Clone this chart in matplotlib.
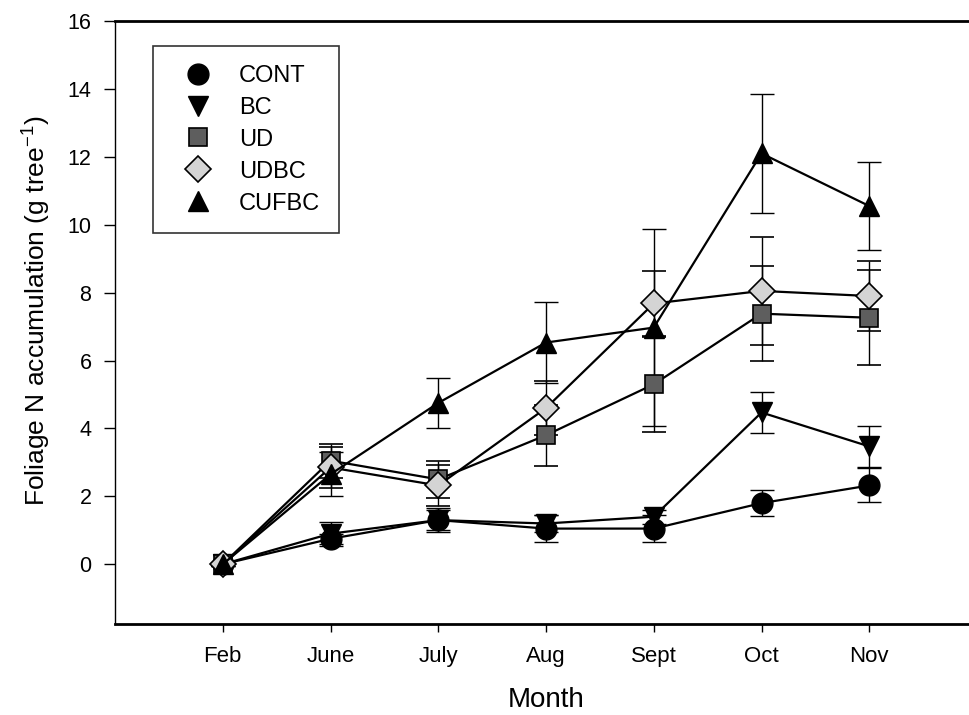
import matplotlib
matplotlib.use("Agg")
import matplotlib.pyplot as plt
from matplotlib.lines import Line2D

plt.rcParams['font.family'] = ['Liberation Sans', 'DejaVu Sans']
plt.rcParams['mathtext.fontset'] = 'custom'
plt.rcParams['mathtext.rm'] = 'Liberation Sans'
plt.rcParams['mathtext.it'] = 'Liberation Sans:italic'
plt.rcParams['mathtext.bf'] = 'Liberation Sans:bold'

months = ["Feb", "June", "July", "Aug", "Sept", "Oct", "Nov"]

cont = [0, 0.75, 1.3, 1.05, 1.05, 1.8, 2.32]
cont_err = [0.05, 0.15, 0.3, 0.4, 0.4, 0.38, 0.5]
bc = [0, 0.9, 1.3, 1.2, 1.4, 4.47, 3.47]
bc_err = [0.05, 0.35, 0.35, 0.25, 0.2, 0.6, 0.6]
ud = [0, 3.05, 2.5, 3.8, 5.3, 7.38, 7.26]
ud_err = [0.05, 0.5, 0.55, 0.9, 1.4, 1.4, 1.4]
udbc = [0, 2.85, 2.32, 4.6, 7.68, 8.05, 7.9]
udbc_err = [0.05, 0.6, 0.6, 0.8, 0.95, 1.6, 1.02]
cufbc = [0, 2.65, 4.75, 6.53, 6.97, 12.1, 10.55]
cufbc_err = [0.05, 0.65, 0.75, 1.2, 2.9, 1.75, 1.3]

series = [
    ("CONT", cont, cont_err, dict(marker='o', markersize=15, markerfacecolor='black', markeredgecolor='black')),
    ("BC", bc, bc_err, dict(marker='v', markersize=15, markerfacecolor='black', markeredgecolor='black')),
    ("UD", ud, ud_err, dict(marker='s', markersize=13, markerfacecolor='#5e5e5e', markeredgecolor='black', markeredgewidth=1.2)),
    ("UDBC", udbc, udbc_err, dict(marker='D', markersize=13, markerfacecolor='#d4d4d4', markeredgecolor='black', markeredgewidth=1.2)),
    ("CUFBC", cufbc, cufbc_err, dict(marker='^', markersize=15, markerfacecolor='black', markeredgecolor='black')),
]

W, H = 969, 715
fig = plt.figure(figsize=(W / 100, H / 100), dpi=100)
ax = fig.add_axes([115 / W, 1 - 624 / H, (977 - 115) / W, (624 - 21) / H])

x = list(range(len(months)))
handles = []
for name, vals, errs, style in series:
    ax.errorbar(x, vals, yerr=errs, color='black', linewidth=1.6, elinewidth=1.0,
                capsize=8.5, capthick=1.0, **style)
    handles.append(Line2D([], [], linestyle='none', label=name, **style))

ax.set_xlim(-1, 7)
ax.set_ylim(-1.76, 16)
ax.set_xticks(x)
ax.set_xticklabels(months)
ax.set_yticks(range(0, 17, 2))
ax.tick_params(axis='both', direction='out', width=1.0)
ax.tick_params(axis='y', length=8, pad=9, labelsize=15.5)
ax.tick_params(axis='x', length=6, pad=10, labelsize=16)

ax.spines['right'].set_visible(False)
ax.spines['left'].set_linewidth(1.0)
ax.spines['top'].set_linewidth(2.0)
ax.spines['bottom'].set_linewidth(2.0)

ax.set_xlabel("Month", fontsize=20, labelpad=14)
ax.set_ylabel("Foliage N accumulation (g tree$^{\\mathregular{-1}}$)", fontsize=19)
ax.yaxis.set_label_coords((53 - 115) / 862, (624 - 311) / 603)

leg = ax.legend(handles=handles, loc='upper left',
                bbox_to_anchor=((153 - 115) / 862, (624 - 46) / 603),
                borderaxespad=0, fancybox=False, frameon=True, fontsize=17,
                labelspacing=0.42, handletextpad=0.64, borderpad=0.8,
                handlelength=2.2)
leg.get_frame().set_edgecolor('black')
leg.get_frame().set_linewidth(1.2)

fig.savefig("out.png", dpi=100)
